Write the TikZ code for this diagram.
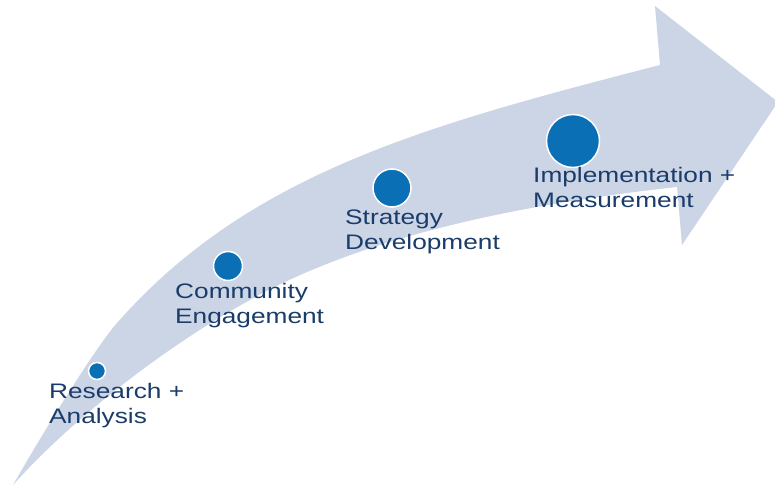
\documentclass[tikz,border=0pt]{standalone}
\usepackage{fontspec}
\newfontfamily\labfont[FakeStretch=1.25]{Liberation Sans}
\definecolor{arrowfill}{HTML}{CBD5E6}
\definecolor{dotblue}{HTML}{0B6FB6}
\definecolor{labblue}{HTML}{1A3C6A}
\begin{document}
\begin{tikzpicture}[x=1pt,y=-1pt,
  dot/.style={circle,fill=dotblue,draw=white,line width=1.5pt,inner sep=0pt},
  lab/.style={anchor=north west,inner sep=0pt,align=left,text=labblue,font=\labfont\fontsize{21}{25}\selectfont}]
\useasboundingbox (0,0) rectangle (775,486);
% arrow body
\fill[arrowfill]
  (13,485) .. controls (38,441) and (94,349) .. (117,323)
  .. controls (249,173) and (427,125) .. (660,65)
  -- (655,6) -- (778,102) -- (682,245) -- (677,187)
  .. controls (560,200) and (380,227) .. (250,300)
  .. controls (180,338) and (80,410) .. (13,485)
  -- cycle;
% dots
\node[dot,minimum size=17pt] (d1) at (97,371) {};
\node[dot,minimum size=29pt] (d2) at (228,266) {};
\node[dot,minimum size=38pt] (d3) at (392,188) {};
\node[dot,minimum size=53pt] (d4) at (573,141) {};
% labels
\node[lab] (l1) at (49,383) {Research +\\Analysis};
\node[lab] (l2) at (175,283) {Community\\Engagement};
\node[lab] (l3) at (345,210) {Strategy\\Development};
\node[lab] (l4) at (533,167) {Implementation +\\Measurement};
\end{tikzpicture}
\end{document}
